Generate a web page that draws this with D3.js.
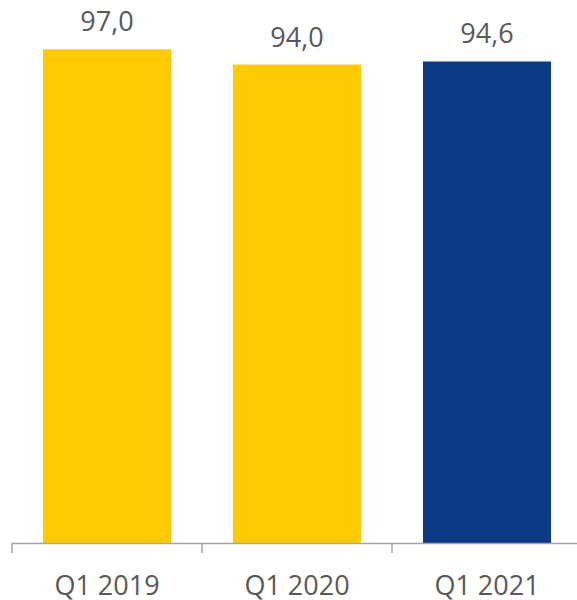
<!DOCTYPE html>
<html>
<head>
<meta charset="utf-8">
<script src="https://cdn.jsdelivr.net/npm/d3@7"></script>
<style>
  html, body { margin: 0; padding: 0; background: #fff; }
  svg { display: block; }
  text { font-family: "Open Sans", "Noto Sans", sans-serif; fill: #595959; }
</style>
</head>
<body>
<svg id="chart" width="577" height="600"></svg>
<script>
const categories = ["Q1 2019", "Q1 2020", "Q1 2021"];
const values = [97.0, 94.0, 94.6];
const barColors = ["#FFCA00", "#FFCA00", "#0D3A85"];
const valueLabels = ["97,0", "94,0", "94,6"];

const svg = d3.select("#chart");
const baseY = 543;

const x = d3.scaleBand()
  .domain(categories)
  .range([12, 582])
  .paddingInner(0.326)
  .paddingOuter(0.163);

const y = d3.scaleLinear()
  .domain([0, 100])
  .range([baseY, 34]);

// bars
svg.append("g")
  .selectAll("rect")
  .data(values)
  .join("rect")
  .attr("x", (d, i) => x(categories[i]))
  .attr("width", x.bandwidth())
  .attr("y", d => y(d))
  .attr("height", d => y(0) - y(d))
  .attr("fill", (d, i) => barColors[i]);

// value labels
svg.append("g")
  .selectAll("text")
  .data(values)
  .join("text")
  .attr("x", (d, i) => x(categories[i]) + x.bandwidth() / 2)
  .attr("y", d => y(d) - 18)
  .attr("text-anchor", "middle")
  .style("font-size", "27px")
  .text((d, i) => valueLabels[i]);

// category axis: baseline, boundary ticks between categories, labels
const axis = svg.append("g");
const step = x.step();
const x0 = x.range()[0];
axis.append("line")
  .attr("x1", x0).attr("x2", x.range()[1])
  .attr("y1", baseY + 0.5).attr("y2", baseY + 0.5)
  .attr("stroke", "#A6A6A6").attr("stroke-width", 1.5);
axis.selectAll("line.tick")
  .data(d3.range(categories.length + 1))
  .join("line")
  .attr("class", "tick")
  .attr("x1", i => x0 + i * step).attr("x2", i => x0 + i * step)
  .attr("y1", baseY).attr("y2", baseY + 10)
  .attr("stroke", "#A6A6A6").attr("stroke-width", 1.5);
axis.selectAll("text")
  .data(categories)
  .join("text")
  .attr("x", d => x(d) + x.bandwidth() / 2)
  .attr("y", 595)
  .attr("text-anchor", "middle")
  .style("font-size", "27px")
  .text(d => d);
</script>
</body>
</html>
